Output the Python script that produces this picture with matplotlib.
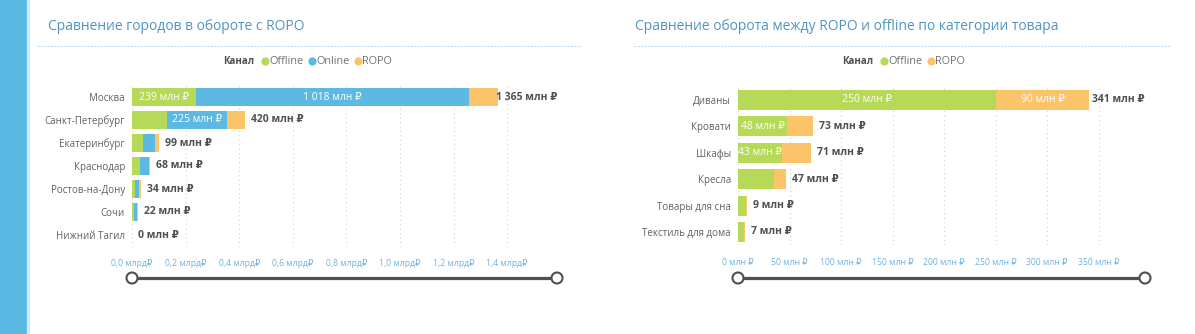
import matplotlib.pyplot as plt
from matplotlib.patches import Rectangle, Circle
from matplotlib.transforms import offset_copy

plt.rcParams['font.family'] = ['Open Sans', 'DejaVu Sans']

# обороты по городам, млн ₽
cities = ['Москва', 'Санкт-Петербург', 'Екатеринбург', 'Краснодар',
          'Ростов-на-Дону', 'Сочи', 'Нижний Тагил']
city_offline = [239, 131, 41, 30, 12, 6, 0]
city_online = [1018, 225, 45, 35, 14, 12, 0]
city_ropo = [108, 64, 13, 3, 8, 4, 0]

# обороты по категориям товара, млн ₽
categories = ['Диваны', 'Кровати', 'Шкафы', 'Кресла',
              'Товары для сна', 'Текстиль для дома']
cat_offline = [250.4, 48, 43, 35, 8, 6]
cat_ropo = [90.4, 25, 28, 12, 1, 1]

city_ticks = [0, 200, 400, 600, 800, 1000, 1200, 1400]
city_tick_labels = ['0,0 млрд₽', '0,2 млрд₽', '0,4 млрд₽', '0,6 млрд₽',
                    '0,8 млрд₽', '1,0 млрд₽', '1,2 млрд₽', '1,4 млрд₽']
cat_ticks = [0, 50, 100, 150, 200, 250, 300, 350]
cat_tick_labels = ['0 млн ₽', '50 млн ₽', '100 млн ₽', '150 млн ₽',
                   '200 млн ₽', '250 млн ₽', '300 млн ₽', '350 млн ₽']

GREEN = '#b6d957'
BLUE = '#5cb9e4'
ORANGE = '#fbc469'
TICK_BLUE = '#6db3e0'
TITLE_BLUE = '#4f95c2'

W, H = 1195, 334
fig = plt.figure(figsize=(W / 100, H / 100), dpi=100)


def px_axes(x0, x1, y0, y1):
    return fig.add_axes([x0 / W, 1 - y1 / H, (x1 - x0) / W, (y1 - y0) / H])


def fmt(v):
    return f'{round(v):,}'.replace(',', ' ') + ' млн ₽'


def stacked(ax, labels, series, colors, xmax, ticks, tick_labels, min_inside, height):
    ypos = list(range(len(labels)))
    left = [0] * len(labels)
    for vals, col in zip(series, colors):
        ax.barh(ypos, vals, left=left, color=col, height=height, zorder=2)
        for y, l, v in zip(ypos, left, vals):
            if v >= min_inside:
                ax.text(l + v / 2, y, fmt(v), ha='center', va='center',
                        color='white', fontsize=7.5, zorder=3)
        left = [a + b for a, b in zip(left, vals)]
    totals = []
    trans = offset_copy(ax.transData, fig=fig, x=6, y=0, units='dots')
    for y, t in zip(ypos, left):
        txt = ax.text(t, y, fmt(t), ha='left', va='center', color='#505050',
                      fontsize=7.5, fontweight='bold', transform=trans, zorder=3)
        totals.append(txt)
    ax.set_xlim(0, xmax)
    ax.set_ylim(len(labels) - 0.5, -0.5)
    ax.set_yticks(ypos)
    ax.set_yticklabels(labels, fontsize=7, color='#606060')
    ax.set_xticks(ticks)
    ax.set_xticklabels(tick_labels, fontsize=6.2, color=TICK_BLUE)
    ax.tick_params(length=0, axis='x', pad=9)
    ax.tick_params(length=0, axis='y', pad=5)
    ax.grid(axis='x', linestyle=(0, (1, 3)), color='#cfcfcf', linewidth=0.8, zorder=0)
    for s in ax.spines.values():
        s.set_visible(False)
    return totals


ax1 = px_axes(132, 557, 85.5, 246.5)
tot1 = stacked(ax1, cities, [city_offline, city_online, city_ropo],
               [GREEN, BLUE, ORANGE], 1586, city_ticks, city_tick_labels, 150, 0.74)

ax2 = px_axes(738, 1145, 86.8, 245.2)
tot2 = stacked(ax2, categories, [cat_offline, cat_ropo],
               [GREEN, ORANGE], 395, cat_ticks, cat_tick_labels, 40, 0.76)

# подписи итогов не выходят за правый край области
fig.canvas.draw()
renderer = fig.canvas.get_renderer()
for ax, texts in ((ax1, tot1), (ax2, tot2)):
    for t in texts:
        if t.get_window_extent().x1 > ax.bbox.x1:
            t.set_transform(ax.transData)
            t.set_x(ax.get_xlim()[1])
            t.set_ha('right')

# оформление страницы в пиксельных координатах
deco = fig.add_axes([0, 0, 1, 1], zorder=-1)
deco.set_xlim(0, W)
deco.set_ylim(H, 0)
deco.axis('off')

deco.add_patch(Rectangle((0, 0), 27, H, color='#5bb8e3'))
deco.add_patch(Rectangle((27, 0), 2, H, color='#cfe9f6'))

deco.text(48, 26, 'Сравнение городов в обороте с ROPO', fontsize=10,
          color=TITLE_BLUE, va='center', ha='left')
deco.text(635, 26, 'Сравнение оборота между ROPO и offline по категории товара',
          fontsize=10, color=TITLE_BLUE, va='center', ha='left')
deco.plot([37, 581], [45.5, 45.5], color='#bfe0f2', linewidth=0.8, linestyle=(0, (2, 1)))
deco.plot([634, 1171], [45.5, 45.5], color='#bfe0f2', linewidth=0.8, linestyle=(0, (2, 1)))


def text_right(t):
    # правый край надписи в пикселях (по x совпадает с данными deco)
    return t.get_window_extent(renderer).x1


def legend(x, items):
    head = deco.text(x, 61, 'Канал', fontsize=7, fontweight='bold', color='#505050',
                     va='center', ha='left')
    pos = text_right(head) + 11
    for name, col in items:
        deco.scatter([pos], [61], s=24, color=col, zorder=3)
        t = deco.text(pos + 4, 61, name, fontsize=7.8, color='#707070',
                      va='center', ha='left')
        pos = text_right(t) + 9


legend(223, [('Offline', GREEN), ('Online', BLUE), ('ROPO', ORANGE)])
legend(842, [('Offline', GREEN), ('ROPO', ORANGE)])

# ползунки диапазона под осями
for x0, x1 in ((132, 557), (738, 1145)):
    deco.plot([x0, x1], [278, 278], color='#505050', linewidth=2.3, zorder=2)
    for x in (x0, x1):
        deco.add_patch(Circle((x, 278), 5.5, facecolor='white', edgecolor='#505050',
                              linewidth=1.5, zorder=3))

fig.savefig('out.png', dpi=100)
